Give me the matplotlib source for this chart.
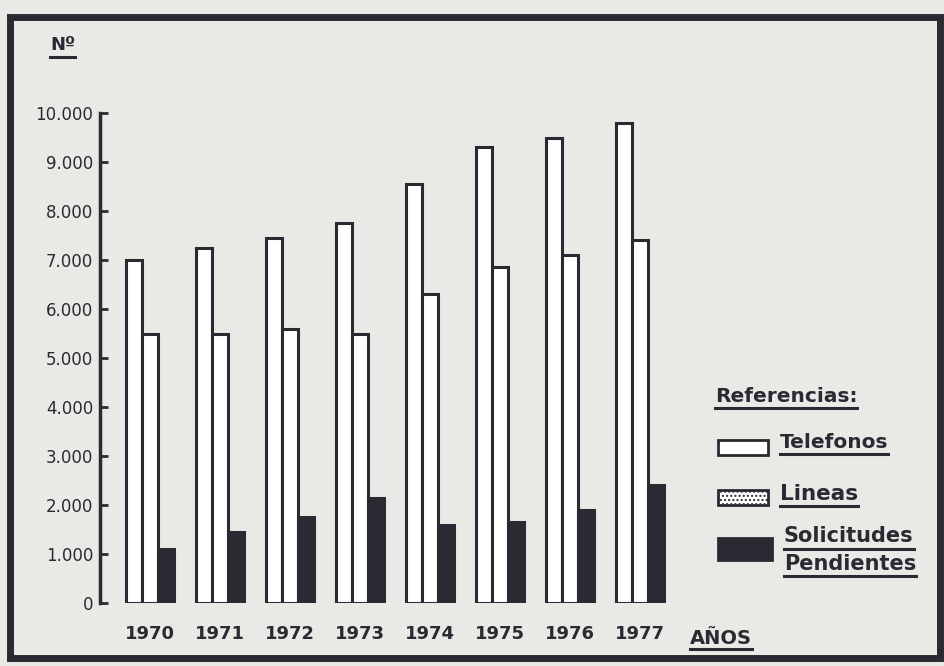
import matplotlib.pyplot as plt
import numpy as np
from matplotlib.patches import Rectangle
from matplotlib.lines import Line2D

# === DATA ===
years = ['1970', '1971', '1972', '1973', '1974', '1975', '1976', '1977']
telefonos = [7000, 7250, 7450, 7750, 8550, 9300, 9500, 9800]
lineas = [5500, 5500, 5600, 5500, 6300, 6850, 7100, 7400]
solicitudes = [1100, 1450, 1750, 2150, 1600, 1650, 1900, 2400]
yticks = [0, 1000, 2000, 3000, 4000, 5000, 6000, 7000, 8000, 9000, 10000]
ytick_labels = ['0', '1.000', '2.000', '3.000', '4.000', '5.000',
                '6.000', '7.000', '8.000', '9.000', '10.000']

# === STYLE ===
W, H = 945, 666
paper = '#e9e9e6'
ink = '#2a2a33'
font = 'DejaVu Sans'

fig = plt.figure(figsize=(W / 100, H / 100), dpi=100, facecolor=paper)


def fx(px):
    return px / W


def fy(py):
    return 1 - py / H


# axes: spine at x=100 px, 0 at y=603 px, 10000 at y=113 px
ax = fig.add_axes([fx(100), fy(603), fx(690) - fx(100), fy(113) - fy(603)])
ax.set_facecolor('none')

x = np.arange(len(years))
bw = 0.23
ax.bar(x - bw, telefonos, bw, color='white', edgecolor=ink, linewidth=2.2, align='center')
ax.bar(x, lineas, bw, color='white', edgecolor=ink, linewidth=2.2, align='center')
ax.bar(x + bw, solicitudes, bw, color=ink, edgecolor=ink, linewidth=2.2, align='center')

ax.set_xlim(-0.71, 7.71)
ax.set_ylim(0, 10000)
for s in ['top', 'right', 'bottom']:
    ax.spines[s].set_visible(False)
ax.spines['left'].set_color(ink)
ax.spines['left'].set_linewidth(2.5)

ax.set_yticks(yticks)
ax.set_yticklabels(ytick_labels)
ax.tick_params(axis='y', direction='in', length=6, width=2, color=ink, pad=5,
               labelsize=12, labelcolor=ink)
ax.set_xticks(x)
ax.set_xticklabels(years)
ax.tick_params(axis='x', length=0, pad=16, labelsize=13, labelcolor=ink)
for lbl in ax.get_xticklabels() + ax.get_yticklabels():
    lbl.set_family(font)
for lbl in ax.get_xticklabels():
    lbl.set_fontweight('bold')


def underlined(px, py, text, size, dy=12):
    t = fig.text(fx(px), fy(py), text, fontsize=size, color=ink, family=font,
                 fontweight='bold', va='center', ha='left')
    r = fig.canvas.get_renderer()
    bb = t.get_window_extent(renderer=r)
    fig.add_artist(Line2D([bb.x0 / W, bb.x1 / W], [fy(py + dy)] * 2, color=ink,
                          lw=2.2, transform=fig.transFigure))
    return t


# y unit label and x unit label
underlined(50, 45, 'Nº', 13)
underlined(690, 638, 'AÑOS', 14, dy=11)

# === LEGEND (drawn by hand like the original) ===
underlined(715, 396, 'Referencias:', 14.5)
fig.add_artist(Rectangle((fx(718), fy(455)), fx(50), fy(440) - fy(455),
                         facecolor='white', edgecolor=ink, lw=2,
                         transform=fig.transFigure))
underlined(780, 442, 'Telefonos', 14.5)
fig.add_artist(Rectangle((fx(718), fy(505)), fx(50), fy(490) - fy(505),
                         facecolor='white', edgecolor=ink, lw=2, hatch='....',
                         transform=fig.transFigure))
underlined(780, 494, 'Lineas', 15.5)
fig.add_artist(Rectangle((fx(718), fy(560)), fx(54), fy(538) - fy(560),
                         facecolor=ink, edgecolor=ink, lw=2,
                         transform=fig.transFigure))
underlined(784, 536, 'Solicitudes', 15, dy=13)
underlined(784, 564, 'Pendientes', 15, dy=12)

# outer frame of the original sheet
fig.add_artist(Rectangle((fx(10), fy(658)), fx(940) - fx(10), fy(17) - fy(658),
                         facecolor='none', edgecolor=ink, lw=5,
                         transform=fig.transFigure))

fig.savefig('out.png', dpi=100, facecolor=paper)
